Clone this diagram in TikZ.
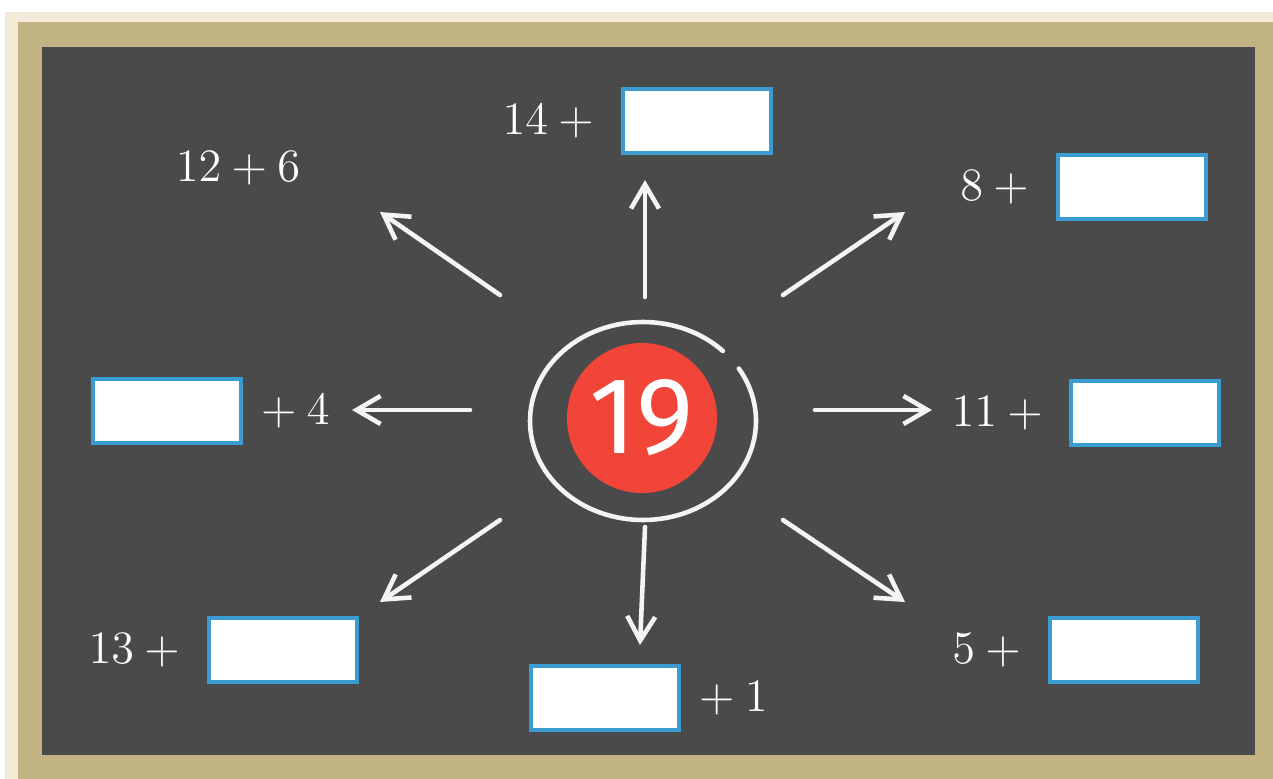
\RequirePackage{fix-cm}
\documentclass[tikz,border=0pt]{standalone}
\usepackage{fontspec}
\usepackage{tikz}
\usetikzlibrary{arrows.meta, positioning}
\newfontfamily\numfont{Fira Sans}
\definecolor{board}{HTML}{4A4A4A}
\definecolor{frametan}{HTML}{C2B482}
\definecolor{framecream}{HTML}{F3EBDA}
\definecolor{numred}{HTML}{F2453A}
\definecolor{boxblue}{HTML}{3B9CD2}
\definecolor{chalkwhite}{HTML}{F4F4F4}

\begin{document}
\begin{tikzpicture}[
    x=0.01cm, y=-0.01cm,
    answer/.style={draw=boxblue, fill=white, line width=1.2pt,
                   minimum width=1.48cm, minimum height=0.64cm, inner sep=0pt},
    sum/.style={text=white, inner sep=0pt, font=\fontsize{13.2}{16}\selectfont},
    chalk/.style={draw=chalkwhite, line width=1.3pt, line cap=round},
    chalkarrow/.style={chalk, -{Straight Barb[length=2.4mm, width=2.8mm]}}
  ]
    % board and frame
    \fill[white] (0,0) rectangle (1273,779);
    \fill[framecream] (5,12) rectangle (1273,779);
    \fill[frametan] (18,22) rectangle (1273,779);
    \fill[board] (42,47) rectangle (1255,755);

    % centre number with chalk ring
    \node[circle, fill=numred, minimum size=1.5cm, inner sep=0pt, text=white,
          font=\numfont\fontsize{31}{31}\selectfont] (num) at (642,418) {19};
    \coordinate (ring) at (643,421);
    \draw[chalk] (ring) ++(-45:113 and 99)
      arc[start angle=-45, end angle=-392, x radius=113, y radius=99];

    % arrows
    \foreach \dir/\sx/\sy/\ex/\ey in {up/645/297/645/180, ul/500/295/380/212,
        ur/783/295/905/212, lt/470/410/352/410, rt/815/410/932/410,
        dl/500/520/380/602, dn/645/527/640/645, dr/783/520/905/602}{
      \coordinate (\dir-s) at (\sx,\sy);
      \coordinate (\dir-e) at (\ex,\ey);
      \draw[chalkarrow] (\dir-s) -- (\dir-e);
    }

    % answer boxes
    \node[answer] (box-up) at (697,121) {};
    \node[answer] (box-ur) at (1132,187) {};
    \node[answer] (box-rt) at (1145,413) {};
    \node[answer] (box-lt) at (167,411) {};
    \node[answer] (box-dl) at (283,650) {};
    \node[answer] (box-dn) at (605,698) {};
    \node[answer] (box-dr) at (1124,650) {};

    % sums
    \node[sum] (sum-ul) at (238,168) {$12+6$};
    \node[sum, left=0.16cm of box-up] (sum-up) {$14+{}$};
    \node[sum, left=0.16cm of box-ur] (sum-ur) {$8+{}$};
    \node[sum, left=0.15cm of box-rt] (sum-rt) {$11+{}$};
    \node[sum, right=0.07cm of box-lt] (sum-lt) {${}+4$};
    \node[sum, left=0.16cm of box-dl] (sum-dl) {$13+{}$};
    \node[sum, right=0.07cm of box-dn] (sum-dn) {${}+1$};
    \node[sum, left=0.16cm of box-dr] (sum-dr) {$5+{}$};
  \end{tikzpicture}
\end{document}
